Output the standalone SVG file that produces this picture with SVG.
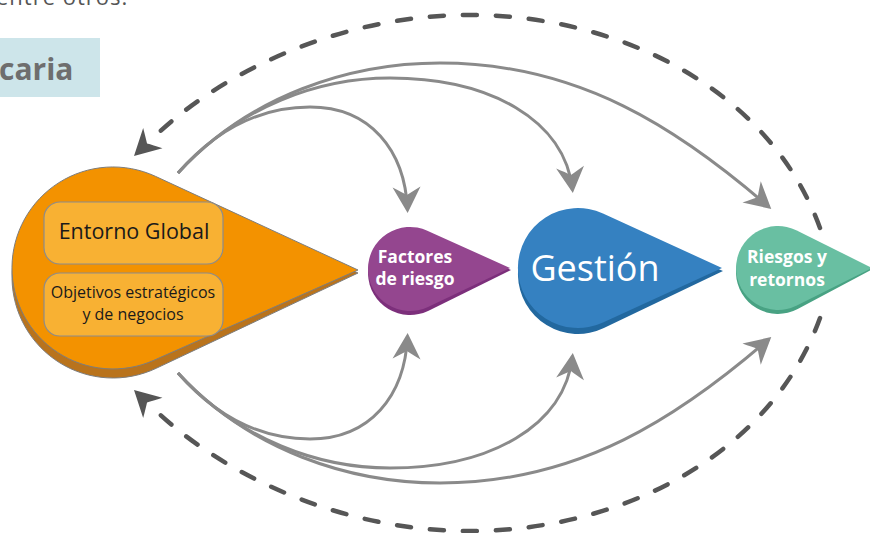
<svg xmlns="http://www.w3.org/2000/svg" width="870" height="533" viewBox="0 0 870 533">
  <defs>
    <style>
      .lbl { font-family: "Open Sans", "Liberation Sans", sans-serif; text-anchor: middle; }
      .wb { fill: #ffffff; font-weight: 700; font-size: 17.5px; }
      .flow { fill: none; stroke: #8a8a8a; stroke-width: 3; marker-end: url(#headSolid); }
      .loop { fill: none; stroke: #565656; stroke-width: 4.5; stroke-linecap: round; stroke-dasharray: 14 19; }
      .loophead { fill: none; stroke: none; marker-end: url(#headDash); }
      .box { fill: #f8b133; stroke: #8c8c8c; stroke-width: 1.2; }
    </style>
    <marker id="headSolid" viewBox="0 -15 27 30" refX="23" refY="0" markerWidth="27" markerHeight="30" markerUnits="userSpaceOnUse" orient="auto" overflow="visible">
      <path d="M26,0 L0,-14 Q5,-5 8,0 Q5,5 0,14 Z" fill="#8a8a8a"/>
    </marker>
    <marker id="headDash" viewBox="0 -15 27 30" refX="26" refY="0" markerWidth="27" markerHeight="30" markerUnits="userSpaceOnUse" orient="auto" overflow="visible">
      <path d="M26,0 L0,-14 Q5,-5 8,0 Q5,5 0,14 Z" fill="#565656"/>
    </marker>
  </defs>

  <rect width="870" height="533" fill="#ffffff"/>

  <!-- page fragments around the figure -->
  <text x="-4" y="5" font-family="'Open Sans', 'Liberation Sans', sans-serif" font-size="22" fill="#555555" letter-spacing="1">entre otros.</text>
  <rect x="0" y="38" width="100" height="59" fill="#cde5ea"/>
  <text x="-1" y="80" font-family="'Open Sans', 'Liberation Sans', sans-serif" font-size="30" font-weight="700" fill="#6e6e6e">caria</text>

  <!-- connectors -->
  <g id="connectors">
    <!-- feedback loops -->
    <path class="loop" d="M820,228 C770,90 620,15 470,15 C330,15 210,80 148,143"/>
    <path class="loophead" d="M155,136 L134,156"/>
    <path class="loop" d="M820,318 C770,456 620,531 470,531 C330,531 210,466 148,403"/>
    <path class="loophead" d="M155,410 L134,390"/>
    <!-- upper flows -->
    <path class="flow" d="M178,173 C220,125 265,107 310,107 C370,107 405,150 407.5,210"/>
    <path class="flow" d="M178,173 C240,105 320,78 390,78 C490,78 565,120 572.5,190"/>
    <path class="flow" d="M178,173 C250,95 350,63 440,63 C580,63 680,130 769,207"/>
    <!-- lower flows -->
    <path class="flow" d="M178,373 C220,421 265,439 310,439 C370,439 405,396 407.5,336"/>
    <path class="flow" d="M178,373 C240,441 320,468 390,468 C490,468 565,426 572.5,356"/>
    <path class="flow" d="M178,373 C250,451 350,483 440,483 C580,483 680,416 769,339"/>
  </g>

  <!-- Entorno -->
  <g id="entorno">
    <path d="M358,273 L153.1,184.3 A101,101 0 1 0 156.2,368.3 Z" fill="#b9731c" stroke="#7d7d7d" stroke-width="1"/>
    <path d="M358,270 L155.4,176.3 A101,101 0 1 0 153.9,360.3 Z" fill="#f39200" stroke="#7d7d7d" stroke-width="1"/>
    <rect class="box" x="44" y="202" width="179" height="62" rx="16"/>
    <rect class="box" x="44" y="273" width="179" height="63" rx="16"/>
    <text class="lbl" x="134" y="239" font-size="21.5" fill="#1a1a1a">Entorno Global</text>
    <text class="lbl" x="133" y="298" font-size="16" fill="#1a1a1a">Objetivos estratégicos</text>
    <text class="lbl" x="133" y="320" font-size="16" fill="#1a1a1a">y de negocios</text>
  </g>

  <!-- Factores de riesgo -->
  <g id="factores">
    <path d="M511,270 L426.3,234.3 A42,42 0 1 0 428.6,310.7 Z" fill="#7c2f7b"/>
    <path d="M510,268 L427.3,230.7 A42,42 0 1 0 428,306.9 Z" fill="#94468f"/>
    <text class="lbl wb" x="415" y="263">Factores</text>
    <text class="lbl wb" x="415" y="285">de riesgo</text>
  </g>

  <!-- Gestión -->
  <g id="gestion">
    <path d="M723,271 L601.7,218.9 A60,60 0 1 0 603.9,328.1 Z" fill="#22689f"/>
    <path d="M722,268 L603,213.5 A60,60 0 1 0 603,322.5 Z" fill="#3581c1"/>
    <text class="lbl" x="595" y="281" font-size="36" fill="#ffffff">Gestión</text>
  </g>

  <!-- Riesgos y retornos -->
  <g id="riesgos">
    <path d="M873,269 L795.4,233.8 A42,42 0 1 0 797.7,309.1 Z" fill="#48a283"/>
    <path d="M872,268 L796.8,230.4 A42,42 0 1 0 796.8,305.6 Z" fill="#69bfa2"/>
    <text class="lbl wb" x="787" y="263">Riesgos y</text>
    <text class="lbl wb" x="787" y="286">retornos</text>
  </g>
</svg>
